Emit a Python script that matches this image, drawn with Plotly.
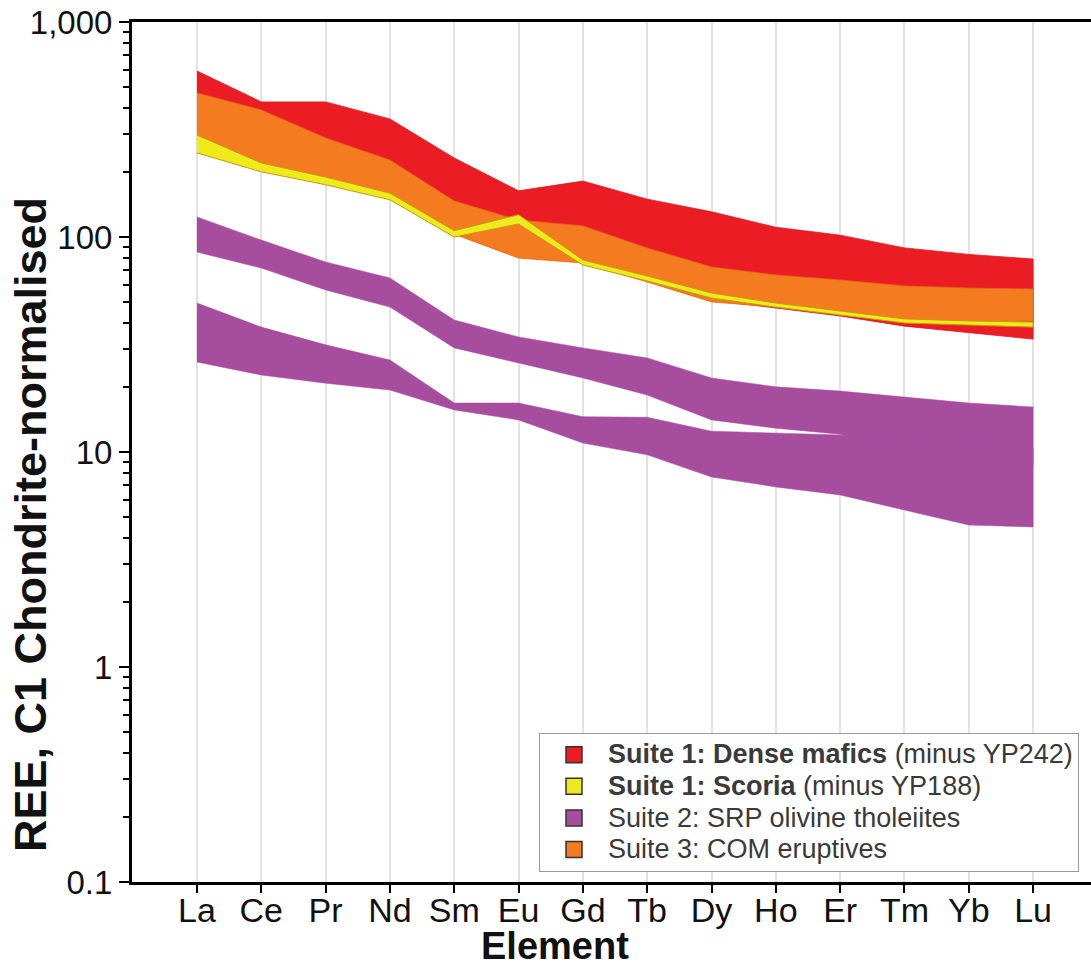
import plotly.graph_objects as go

elements = ["La", "Ce", "Pr", "Nd", "Sm", "Eu", "Gd", "Tb", "Dy", "Ho", "Er", "Tm", "Yb", "Lu"]

# Suite 1: Dense mafics (envelope)
dense_max = [592, 425, 425, 354, 233, 164, 182, 150, 131, 111, 102, 89, 83, 79]
dense_min = [283, 221, 192, 160, 108, 117, 76.5, 63.8, 50.9, 46.7, 42.9, 38.5, 35.8, 33.5]

# Suite 3: COM eruptives (envelope)
com_max = [468, 390, 289, 228, 147, 120, 112.6, 88.9, 72.5, 66.6, 63.1, 59.2, 57.9, 57.3]
com_min = [268, 209, 184, 155, 103, 79.8, 75.7, 61.8, 49.9, 47.2, 43.4, 40.7, 40.2, 40.7]

# Suite 1: Scoria (envelope)
scoria_max = [298, 221, 190, 160, 107, 127, 78.2, 65.9, 54.9, 49.3, 45.3, 41.6, 40.7, 40.2]
scoria_min = [246, 201, 175, 149, 100, 115, 74.1, 62.4, 52.0, 47.2, 43.4, 39.8, 39.0, 38.1]

# Suite 2: SRP olivine tholeiites (two envelopes)
srp_a_max = [124, 96.8, 76.5, 64.5, 41.1, 34.3, 30.5, 27.4, 22.1, 20.1, 19.2, 18.0, 16.9, 16.2]
srp_a_min = [85.1, 71.7, 56.7, 47.2, 30.5, 25.9, 22.1, 18.4, 14.1, 12.9, 12.1, 9.7, 9.2, 8.7]
srp_b_max = [49.3, 38.1, 31.5, 26.8, 16.9, 16.9, 14.6, 14.5, 12.5, 12.2, 12.0, 11.4, 10.8, 10.4]
srp_b_min = [26.2, 22.8, 20.9, 19.4, 15.7, 14.1, 11.0, 9.7, 7.65, 6.88, 6.31, 5.37, 4.57, 4.48]

y_tickvals = [0.1, 1, 10, 100, 1000]
y_ticktext = ["0.1", "1", "10", "100", "1,000"]

RED = "#EC1C24"
ORANGE = "#F47B20"
YELLOW = "#EEEA1C"
PURPLE = "#A64D9E"

fig = go.Figure()


def band(top, bottom, fill, line, width=1):
    return go.Scatter(
        x=elements + elements[::-1],
        y=top + bottom[::-1],
        mode="lines",
        fill="toself",
        fillcolor=fill,
        line=dict(color=line, width=width),
        showlegend=False,
        hoverinfo="skip",
    )


fig.add_trace(band(srp_a_max, srp_a_min, PURPLE, PURPLE, 0.5))
fig.add_trace(band(srp_b_max, srp_b_min, PURPLE, PURPLE, 0.5))
fig.add_trace(band(dense_max, dense_min, RED, "#D41A20", 0.8))
fig.add_trace(band(com_max, com_min, ORANGE, "#E06A18", 0.8))
fig.add_trace(band(scoria_max, scoria_min, YELLOW, "#C49A10", 1))

SP = '<span style="font-size:27px">'
legend_items = [
    (SP + "<b>Suite 1: Dense mafics</b> (minus YP242)</span>", RED),
    (SP + "<b>Suite 1: Scoria</b> (minus YP188)</span>", YELLOW),
    (SP + "Suite 2: SRP olivine tholeiites</span>", PURPLE),
    (SP + "Suite 3: COM eruptives</span>", ORANGE),
]
for i, (name, col) in enumerate(legend_items):
    fig.add_trace(go.Scatter(
        x=[None], y=[None], mode="markers", name=name,
        marker=dict(symbol="square", size=17, color=col, line=dict(color="#333333", width=1.5)),
        legendrank=i + 1,
    ))

fig.update_layout(
    width=1091, height=970,
    margin=dict(l=132, r=0, t=22, b=88),
    paper_bgcolor="white", plot_bgcolor="white",
    font=dict(family="Liberation Sans, Arial, sans-serif", color="#222222"),
    legend=dict(
        x=0.4244, y=0.1733, xanchor="left", yanchor="top",
        bgcolor="white", bordercolor="#999999", borderwidth=1,
        font=dict(size=22, color="#3a3a3a"),
        itemwidth=58, tracegroupgap=0,
    ),
    showlegend=True,
)

fig.update_xaxes(
    type="category", categoryorder="array", categoryarray=elements,
    range=[-1.01, 13.9],
    showgrid=True, gridcolor="#E2E2E2", gridwidth=2,
    showline=True, linecolor="black", linewidth=3, mirror=True,
    ticks="outside", ticklen=8, tickwidth=2, tickcolor="black",
    tickfont=dict(size=34, color="#111111"),
    ticklabelstandoff=-12,
    zeroline=False,
)
fig.update_yaxes(
    type="log", range=[-1, 3],
    tickvals=y_tickvals, ticktext=y_ticktext,
    showgrid=False,
    showline=True, linecolor="black", linewidth=3,
    ticks="outside", ticklen=10, tickwidth=2, tickcolor="black",
    minor=dict(ticks="outside", ticklen=6, tickwidth=1.5, tickcolor="black", dtick="D1", showgrid=False),
    tickfont=dict(size=33, color="#111111"),
    zeroline=False,
)

fig.add_annotation(
    text="<b>Element</b>", xref="paper", yref="paper",
    x=(555 - 132) / 959, y=(882 - 946) / 860, xanchor="center", yanchor="middle",
    showarrow=False, font=dict(size=38, color="#111111"),
)
fig.add_annotation(
    text="<b>REE, C1 Chondrite-normalised</b>", xref="paper", yref="paper",
    x=(30 - 132) / 959, y=(882 - 525) / 860, xanchor="center", yanchor="middle",
    textangle=-90, showarrow=False, font=dict(size=45, color="#111111"),
)

fig.write_html("out.html")
